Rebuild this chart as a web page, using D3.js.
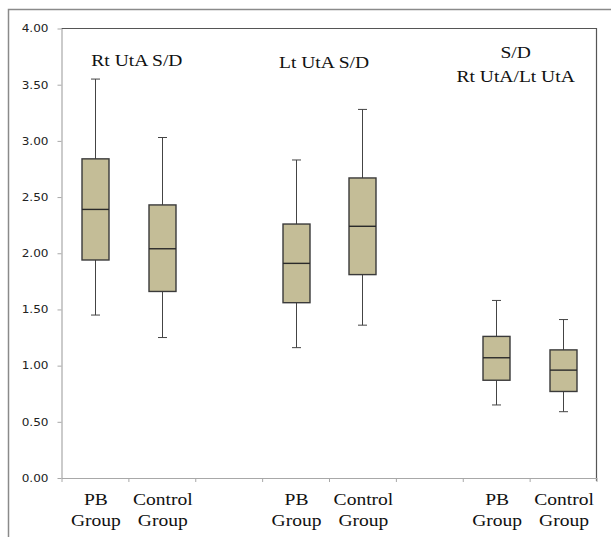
<!DOCTYPE html>
<html>
<head>
<meta charset="utf-8">
<script src="https://cdn.jsdelivr.net/npm/d3@7"></script>
<style>
  body { margin: 0; background: #fff; }
  svg { display: block; }
  .serif { font-family: "Liberation Serif", "Times New Roman", Times, "DejaVu Serif", serif; }
</style>
</head>
<body>
<svg id="chart" width="611" height="537"></svg>
<script>
// panel titles (one per group of two boxes)
const groupTitles = [["Rt UtA S/D"], ["Lt UtA S/D"], ["S/D", "Rt UtA/Lt UtA"]];
// slot layout along x: box slots and empty spacer slots
const slotKind = ["PB", "Control", "", "PB", "Control", "", "PB", "Control"];
const boxLabels = {PB: ["PB", "Group"], Control: ["Control", "Group"]};

// box stats, in box order
const whiskerLow  = [1.45, 1.25, 1.16, 1.36, 0.65, 0.59];
const q1          = [1.94, 1.66, 1.56, 1.81, 0.87, 0.77];
const median      = [2.39, 2.04, 1.91, 2.24, 1.07, 0.96];
const q3          = [2.84, 2.43, 2.26, 2.67, 1.26, 1.14];
const whiskerHigh = [3.55, 3.03, 2.83, 3.28, 1.58, 1.41];

const yTicks = [0, 0.5, 1, 1.5, 2, 2.5, 3, 3.5, 4];

let margin = {top: 28.5, right: 14.5, bottom: 58.5, left: 61.5};
let W = 611, H = 537;
let stretch = 1.15;  // the source image is a bit wider than tall

let svg = d3.select("#chart");

// outer frame (left + top only)
svg.append("path")
    .attr("d", `M8.5,${H} V9.5 H${W}`)
    .attr("fill", "none")
    .attr("stroke", "#8a8a8a")
    .attr("stroke-width", 1.5);

let y = d3.scaleLinear().domain([0, 4]).range([H - margin.bottom - 0.5, margin.top]);
let xEdge = d3.scaleLinear().domain([0, slotKind.length]).range([margin.left, W - margin.right]);
let x = d3.scaleBand().domain(d3.range(slotKind.length)).range(xEdge.range()).padding(0);

let boxSlots = slotKind.map((k, i) => i).filter(i => slotKind[i] !== "");
let boxes = boxSlots.map((s, i) => ({
    slot: s, lo: whiskerLow[i], q1: q1[i], med: median[i], q3: q3[i], hi: whiskerHigh[i]
}));

// plot frame top + right
svg.append("path")
    .attr("d", `M${margin.left},${y(4)} H${xEdge(8)} V${y(0) + 3}`)
    .attr("fill", "none")
    .attr("stroke", "#555")
    .attr("stroke-width", 1.2);

// y axis
let yAxis = svg.append("g")
    .attr("transform", `translate(${margin.left},0)`)
    .call(d3.axisLeft(y).tickValues(yTicks).tickFormat(d3.format(".2f")).tickSize(4).tickSizeOuter(0));
yAxis.select(".domain").attr("stroke", "#a8a8a8").attr("stroke-width", 1.2);
yAxis.selectAll(".tick line").attr("stroke", "#a8a8a8");
yAxis.selectAll(".tick text")
    .attr("x", 0)
    .attr("transform", "translate(-13,0) scale(" + stretch + ",1)")
    .style("font-family", "'DejaVu Sans', Verdana, sans-serif")
    .style("font-size", "10.5px")
    .attr("fill", "#222");

// x axis: tick at every slot edge, no labels
let xAxis = svg.append("g")
    .attr("transform", `translate(0,${y(0)})`)
    .call(d3.axisBottom(xEdge).tickValues(d3.range(slotKind.length + 1)).tickFormat("").tickSize(4).tickSizeOuter(0));
xAxis.select(".domain").attr("stroke", "#a8a8a8").attr("stroke-width", 1.2);
xAxis.selectAll(".tick line").attr("stroke", "#a8a8a8");

// category labels
let labs = svg.append("g").selectAll("g.lab")
    .data(boxSlots).enter().append("g")
    .attr("class", "lab")
    .attr("transform", s => `translate(${x(s) + x.bandwidth() / 2 + 1},0)`);
labs.selectAll("text")
    .data(s => boxLabels[slotKind[s]])
    .enter().append("text")
    .attr("class", "serif")
    .attr("text-anchor", "middle")
    .attr("transform", (d, i) => `translate(0,${y(0) + 27 + i * 21}) scale(${stretch},1)`)
    .attr("font-size", 17)
    .attr("fill", "#111")
    .text(d => d);

// group titles
let titleDx = [8.5, -5, -14];
let titleY = [66, 67.5, 58];
let titles = svg.append("g").selectAll("g.title")
    .data(groupTitles).enter().append("g")
    .attr("class", "title")
    .attr("transform", (d, i) => `translate(${xEdge(i * 3 + 1) + titleDx[i]},${titleY[i]})`);
titles.selectAll("text")
    .data(d => d)
    .enter().append("text")
    .attr("class", "serif")
    .attr("text-anchor", "middle")
    .attr("transform", (d, i) => `translate(0,${i * 23.5}) scale(${stretch},1)`)
    .attr("font-size", 17)
    .attr("fill", "#111")
    .text(d => d);

// boxes
let bw = 27, cap = 9;
let g = svg.append("g").selectAll("g.box")
    .data(boxes).enter().append("g")
    .attr("class", "box")
    .attr("transform", d => `translate(${Math.round(x(d.slot) + x.bandwidth() / 2) + 0.5},0)`);

g.append("line")
    .attr("y1", d => y(d.hi)).attr("y2", d => y(d.lo))
    .attr("stroke", "#444").attr("stroke-width", 1);
g.append("line")
    .attr("x1", -cap / 2).attr("x2", cap / 2)
    .attr("y1", d => y(d.hi)).attr("y2", d => y(d.hi))
    .attr("stroke", "#444").attr("stroke-width", 1);
g.append("line")
    .attr("x1", -cap / 2).attr("x2", cap / 2)
    .attr("y1", d => y(d.lo)).attr("y2", d => y(d.lo))
    .attr("stroke", "#444").attr("stroke-width", 1);
g.append("rect")
    .attr("x", -bw / 2)
    .attr("width", bw)
    .attr("y", d => y(d.q3))
    .attr("height", d => y(d.q1) - y(d.q3))
    .attr("fill", "#c4bd97")
    .attr("stroke", "#3a3a3a")
    .attr("stroke-width", 1.4);
g.append("line")
    .attr("x1", -bw / 2).attr("x2", bw / 2)
    .attr("y1", d => y(d.med)).attr("y2", d => y(d.med))
    .attr("stroke", "#2a2a2a").attr("stroke-width", 1.4);
</script>
</body>
</html>
